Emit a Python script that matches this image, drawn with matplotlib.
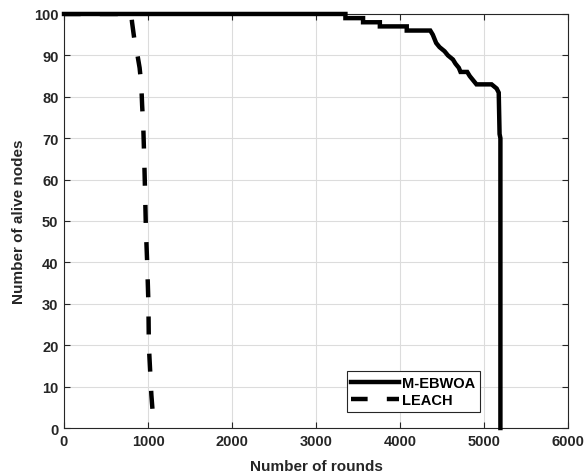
import matplotlib.pyplot as plt

plt.rcParams['font.family'] = ['Liberation Sans', 'DejaVu Sans']

# M-EBWOA: alive nodes vs rounds
mebwoa_rounds = [0, 3350, 3350, 3560, 3560, 3760, 3760, 4080, 4080, 4360, 4390,
                 4430, 4470, 4530, 4570, 4630, 4660, 4700, 4720, 4800, 4830,
                 4870, 4910, 5090, 5150, 5175, 5185, 5195, 5195]
mebwoa_alive = [100, 100, 99, 99, 98, 98, 97, 97, 96, 96, 95,
                93, 92, 91, 90, 89, 88, 87, 86, 86, 85,
                84, 83, 83, 82, 81, 71, 70, 0]

# LEACH
leach_rounds = [0, 800, 810, 830, 850, 875, 900, 920, 930, 945, 955, 965,
                975, 990, 1005, 1010, 1025, 1040, 1055]
leach_alive = [100, 100, 98, 95, 92, 90, 87, 83, 78, 72, 65, 57,
               48, 40, 30, 20, 14, 8, 4]

xticks = [0, 1000, 2000, 3000, 4000, 5000, 6000]
yticks = list(range(0, 101, 10))

fig = plt.figure(figsize=(5.85, 4.77), dpi=100)
ax = fig.add_axes([0.1094, 0.1006, 0.8616, 0.868])

ax.plot(leach_rounds, leach_alive, color='black', linewidth=3.2,
        linestyle=(0.31, (4.05, 4.32)), label='LEACH',
        dash_capstyle='butt')
ax.plot(mebwoa_rounds, mebwoa_alive, '-', color='black', linewidth=3.2,
        label='M-EBWOA', solid_joinstyle='miter', clip_on=False, zorder=3)

ax.set_xlim(0, 6000)
ax.set_ylim(0, 100)
ax.set_xticks(xticks)
ax.set_yticks(yticks)
ax.tick_params(direction='in', top=True, right=True, length=4, width=0.8,
               colors='#262626', labelsize=10.5, pad=4)
for lab in ax.get_xticklabels() + ax.get_yticklabels():
    lab.set_fontweight('bold')
ax.grid(True, color='#dcdcdc', linewidth=0.8)
ax.set_axisbelow(True)
for s in ax.spines.values():
    s.set_color('#262626')
    s.set_linewidth(0.8)

ax.set_xlabel('Number of rounds', fontsize=11, fontweight='bold',
              color='#262626', labelpad=8)
ax.set_ylabel('Number of alive nodes', fontsize=11, fontweight='bold',
              color='#262626', labelpad=6)

handles, labels = ax.get_legend_handles_labels()
leg = ax.legend(handles[::-1], labels[::-1], loc='lower left',
                bbox_to_anchor=(0.561, 0.039),
                prop={'weight': 'bold', 'size': 10.5}, fancybox=False,
                edgecolor='#262626', framealpha=1, handlelength=3.3,
                handletextpad=0.2, borderpad=0.3, labelspacing=0.25,
                borderaxespad=0)
leg.get_frame().set_linewidth(0.8)

fig.savefig('out.png', dpi=100)
